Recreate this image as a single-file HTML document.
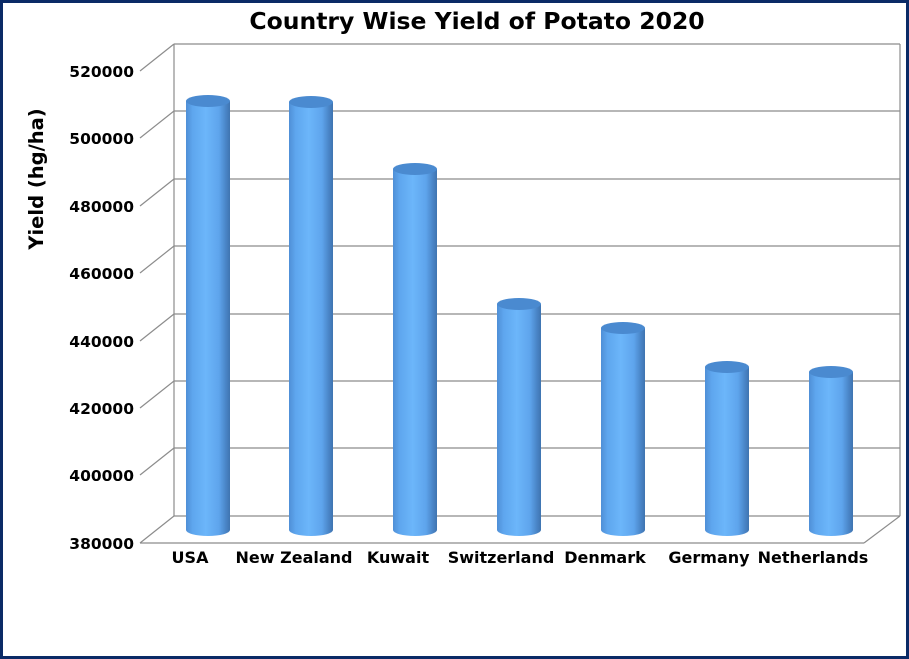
<!DOCTYPE html>
<html><head><meta charset="utf-8"><style>
html,body{margin:0;padding:0;background:#fff;}
svg{display:block;}
text{font-family:"DejaVu Sans","Liberation Sans",sans-serif;font-weight:bold;fill:#000;}
</style></head><body>
<svg width="909" height="659" viewBox="0 0 909 659" xmlns="http://www.w3.org/2000/svg">
<defs>
<linearGradient id="cyl" x1="0" x2="1" y1="0" y2="0">
<stop offset="0" stop-color="#4f8fd6"/>
<stop offset="0.15" stop-color="#5ea6ee"/>
<stop offset="0.45" stop-color="#6cb6fa"/>
<stop offset="0.75" stop-color="#5ea4ec"/>
<stop offset="0.9" stop-color="#4a86c8"/>
<stop offset="1" stop-color="#3f74b0"/>
</linearGradient>
</defs>
<rect x="1.5" y="1.5" width="906" height="656" fill="#fff" stroke="#0a2a66" stroke-width="3"/>
<text x="477" y="29" font-size="23.5" text-anchor="middle">Country Wise Yield of Potato 2020</text>
<g stroke="#8c8c8c" stroke-width="1.2" fill="none">
<line x1="174" y1="44" x2="174" y2="516"/>
<line x1="900" y1="44" x2="900" y2="516"/>
<line x1="174" y1="44" x2="900" y2="44"/>
<line x1="174" y1="111" x2="900" y2="111"/>
<line x1="174" y1="179" x2="900" y2="179"/>
<line x1="174" y1="246" x2="900" y2="246"/>
<line x1="174" y1="314" x2="900" y2="314"/>
<line x1="174" y1="381" x2="900" y2="381"/>
<line x1="174" y1="448" x2="900" y2="448"/>
<line x1="174" y1="516" x2="900" y2="516"/>
<line x1="140" y1="71" x2="174" y2="44"/>
<line x1="140" y1="138" x2="174" y2="111"/>
<line x1="140" y1="206" x2="174" y2="179"/>
<line x1="140" y1="273" x2="174" y2="246"/>
<line x1="140" y1="341" x2="174" y2="314"/>
<line x1="140" y1="408" x2="174" y2="381"/>
<line x1="140" y1="475" x2="174" y2="448"/>
<line x1="140" y1="543" x2="174" y2="516"/>
<line x1="140" y1="543" x2="864" y2="543"/>
<line x1="864" y1="543" x2="900" y2="516"/>
</g>
<g font-size="15.5" text-anchor="end">
<text x="134" y="77">520000</text>
<text x="134" y="144">500000</text>
<text x="134" y="212">480000</text>
<text x="134" y="279">460000</text>
<text x="134" y="347">440000</text>
<text x="134" y="414">420000</text>
<text x="134" y="481">400000</text>
<text x="134" y="549">380000</text>
</g>
<text transform="translate(43,179) rotate(-90)" font-size="19.5" text-anchor="middle">Yield (hg/ha)</text>
<g font-size="16" text-anchor="middle">
<text x="190" y="563">USA</text>
<text x="294" y="563">New Zealand</text>
<text x="398" y="563">Kuwait</text>
<text x="501" y="563">Switzerland</text>
<text x="605" y="563">Denmark</text>
<text x="709" y="563">Germany</text>
<text x="813" y="563">Netherlands</text>
</g>
<g>
<g transform="translate(186,0)"><rect x="0" y="101" width="44" height="429" fill="url(#cyl)"/><ellipse cx="22" cy="530" rx="22" ry="6" fill="url(#cyl)"/><ellipse cx="22" cy="101" rx="22" ry="6" fill="#4a8ad0"/></g>
<g transform="translate(289,0)"><rect x="0" y="102" width="44" height="428" fill="url(#cyl)"/><ellipse cx="22" cy="530" rx="22" ry="6" fill="url(#cyl)"/><ellipse cx="22" cy="102" rx="22" ry="6" fill="#4a8ad0"/></g>
<g transform="translate(393,0)"><rect x="0" y="169" width="44" height="361" fill="url(#cyl)"/><ellipse cx="22" cy="530" rx="22" ry="6" fill="url(#cyl)"/><ellipse cx="22" cy="169" rx="22" ry="6" fill="#4a8ad0"/></g>
<g transform="translate(497,0)"><rect x="0" y="304" width="44" height="226" fill="url(#cyl)"/><ellipse cx="22" cy="530" rx="22" ry="6" fill="url(#cyl)"/><ellipse cx="22" cy="304" rx="22" ry="6" fill="#4a8ad0"/></g>
<g transform="translate(601,0)"><rect x="0" y="328" width="44" height="202" fill="url(#cyl)"/><ellipse cx="22" cy="530" rx="22" ry="6" fill="url(#cyl)"/><ellipse cx="22" cy="328" rx="22" ry="6" fill="#4a8ad0"/></g>
<g transform="translate(705,0)"><rect x="0" y="367" width="44" height="163" fill="url(#cyl)"/><ellipse cx="22" cy="530" rx="22" ry="6" fill="url(#cyl)"/><ellipse cx="22" cy="367" rx="22" ry="6" fill="#4a8ad0"/></g>
<g transform="translate(809,0)"><rect x="0" y="372" width="44" height="158" fill="url(#cyl)"/><ellipse cx="22" cy="530" rx="22" ry="6" fill="url(#cyl)"/><ellipse cx="22" cy="372" rx="22" ry="6" fill="#4a8ad0"/></g>
</g>
</svg>
</body></html>
